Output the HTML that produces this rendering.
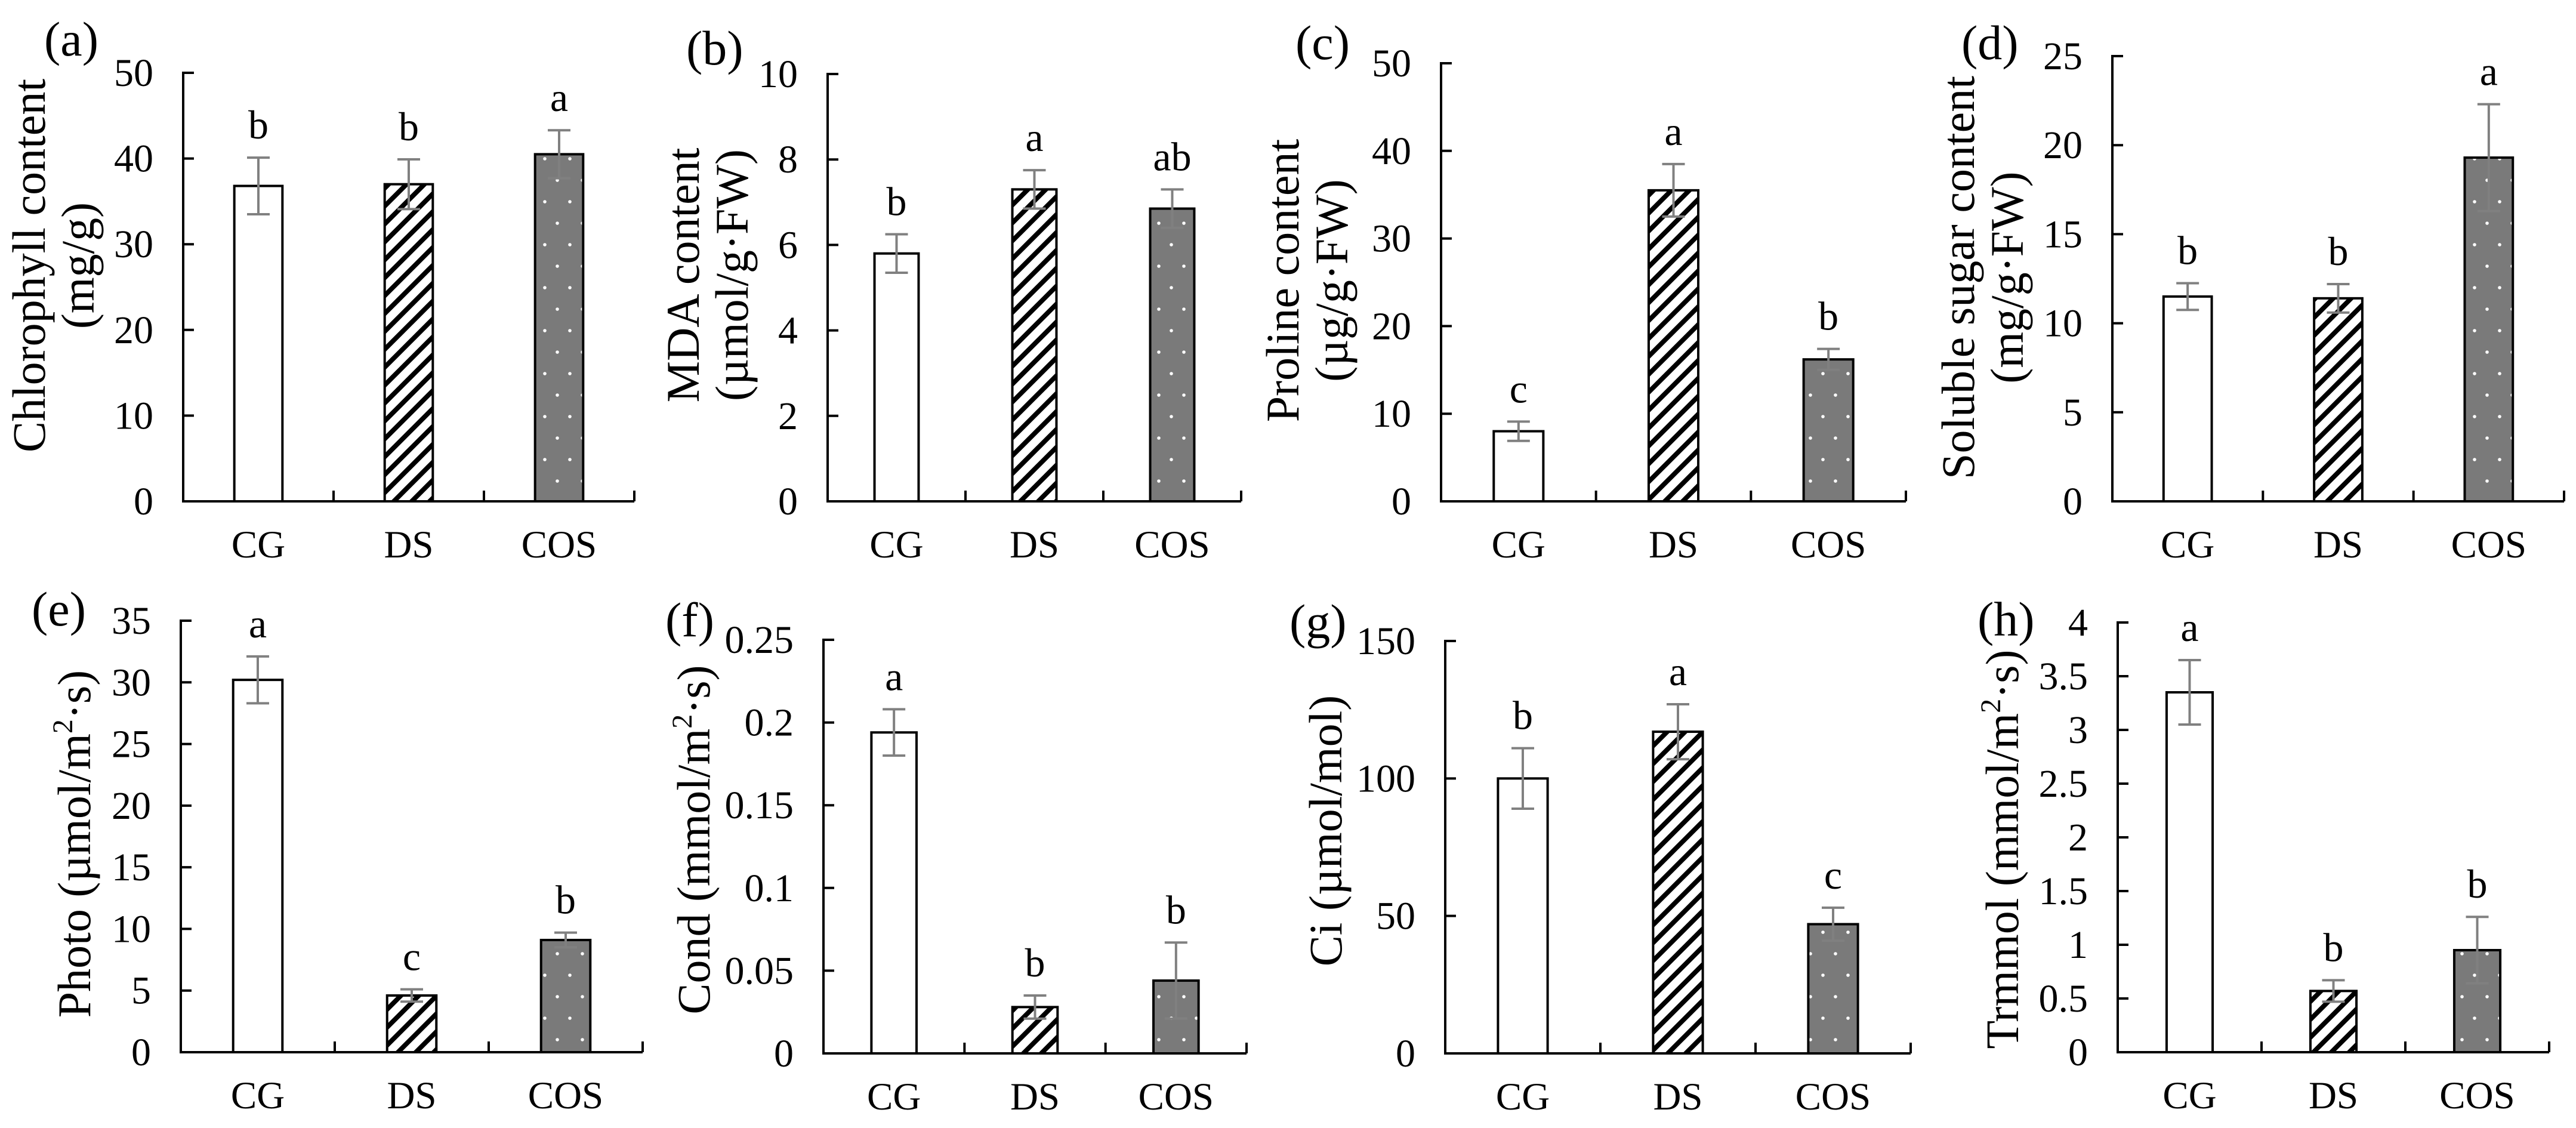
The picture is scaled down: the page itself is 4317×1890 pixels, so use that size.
<!DOCTYPE html>
<html><head><meta charset="utf-8"><style>
html,body{margin:0;padding:0;background:#fff;}
svg{display:block;}
text{font-family:"Liberation Serif",serif;fill:#000;}
</style></head>
<body>
<svg id="fig" xmlns="http://www.w3.org/2000/svg" width="4317" height="1890" viewBox="0 0 4317 1890">
<defs>
<pattern id="hatch" patternUnits="userSpaceOnUse" width="30" height="30">
<rect width="30" height="30" fill="#fff"/>
<path d="M-8,38 L38,-8 M-38,38 L8,-8 M22,38 L68,-8" stroke="#000" stroke-width="8"/>
</pattern>
<pattern id="dots" patternUnits="userSpaceOnUse" width="42" height="72">
<rect width="42" height="72" fill="#7a7a7a"/>
<circle cx="10" cy="14" r="2.8" fill="#fff"/>
<circle cx="31" cy="50" r="2.8" fill="#fff"/>
</pattern>
</defs>
</svg>
<script>
const categories = ["CG","DS","COS"];
const panelIds = ["a","b","c","d","e","f","g","h"];
const valsA = [36.8, 37.0, 40.5], errA = [3.3, 2.9, 2.8], letA = ["b","b","a"];
const valsB = [5.8, 7.3, 6.85], errB = [0.45, 0.45, 0.45], letB = ["b","a","ab"];
const valsC = [8.0, 35.5, 16.2], errC = [1.1, 3.0, 1.2], letC = ["c","a","b"];
const valsD = [11.5, 11.4, 19.3], errD = [0.75, 0.8, 3.0], letD = ["b","b","a"];
const valsE = [30.2, 4.6, 9.1], errE = [1.9, 0.5, 0.6], letE = ["a","c","b"];
const valsF = [0.194, 0.028, 0.044], errF = [0.014, 0.007, 0.023], letF = ["a","b","b"];
const valsG = [100, 117, 47], errG = [11, 10, 6], letG = ["b","a","c"];
const valsH = [3.35, 0.57, 0.95], errH = [0.3, 0.1, 0.31], letH = ["a","b","b"];
const ticksA = ["0","10","20","30","40","50"];
const ticksB = ["0","2","4","6","8","10"];
const ticksC = ["0","10","20","30","40","50"];
const ticksD = ["0","5","10","15","20","25"];
const ticksE = ["0","5","10","15","20","25","30","35"];
const ticksF = ["0","0.05","0.1","0.15","0.2","0.25"];
const ticksG = ["0","50","100","150"];
const ticksH = ["0","0.5","1","1.5","2","2.5","3","3.5","4"];

const data = {a:[valsA,errA,letA,ticksA],b:[valsB,errB,letB,ticksB],c:[valsC,errC,letC,ticksC],d:[valsD,errD,letD,ticksD],
 e:[valsE,errE,letE,ticksE],f:[valsF,errF,letF,ticksF],g:[valsG,errG,letG,ticksG],h:[valsH,errH,letH,ticksH]};

// layout (pixels)
const layout = {
 a:{ax:307,top:122,zero:840,end:1063,lx:74,ly:93,tc:445,t:[["Chlorophyll content",75],["(mg/g)",157]]},
 b:{ax:1387,top:124,zero:840,end:2080,lx:1150,ly:108,tc:461,t:[["MDA content",1171],["(µmol/g·FW)",1253]]},
 c:{ax:2415,top:106,zero:840,end:3194,lx:2171,ly:99,tc:470,t:[["Proline content",2176],["(µg/g·FW)",2258]]},
 d:{ax:3540,top:94,zero:840,end:4297,lx:3287,ly:99,tc:465,t:[["Soluble sugar content",3308],["(mg/g·FW)",3390]]},
 e:{ax:303,top:1040,zero:1763,end:1077,lx:53,ly:1048,tc:1414,t:[["Photo (µmol/m|2|·s)",151]]},
 f:{ax:1380,top:1072,zero:1765,end:2089,lx:1115,ly:1066,tc:1407,t:[["Cond (mmol/m|2|·s)",1189]]},
 g:{ax:2422,top:1074,zero:1765,end:3202,lx:2161,ly:1069,tc:1392,t:[["Ci (µmol/mol)",2248]]},
 h:{ax:3549,top:1043,zero:1763,end:4272,lx:3314,ly:1065,tc:1423,t:[["Trmmol (mmol/m|2|·s)",3382]]}
};
const fills = ["#fff","url(#hatch)","url(#dots)"];
const NS = "http://www.w3.org/2000/svg";
const svg = document.getElementById("fig");
function mk(tag, attrs, parent){const e=document.createElementNS(NS,tag);for(const k in attrs)e.setAttribute(k,attrs[k]);(parent||svg).appendChild(e);return e;}

panelIds.forEach(function(id){
 const L = layout[id];
 const [vals, errs, lets, ticks] = data[id];
 const g = mk("g",{});
 
 
 const tmin = parseFloat(ticks[0]), tmax = parseFloat(ticks[ticks.length-1]);
 const yS = v => L.zero - (v - tmin) / (tmax - tmin) * (L.zero - L.top);
 const cw = (L.end - L.ax) / categories.length;
 const xS = i => L.ax + cw * (i + 0.5);
 const bw = cw * 0.32;
 vals.forEach(function(v,i){
  const r = mk("rect",{x:xS(i)-bw/2,y:yS(v),width:bw,height:L.zero-yS(v),fill:fills[i],stroke:"#000","stroke-width":4},g);
  
  
 });
 vals.forEach(function(v,i){
  const x=xS(i), y1=yS(v+errs[i]), y2=yS(Math.max(tmin,v-errs[i]));
  const eg = mk("g",{stroke:"#808080","stroke-width":4},g);
  
  
  mk("line",{x1:x,x2:x,y1:y1,y2:y2},eg);
  mk("line",{x1:x-19,x2:x+19,y1:y1,y2:y1},eg);
  mk("line",{x1:x-19,x2:x+19,y1:y2,y2:y2},eg);
  const t = mk("text",{x:x,y:y1-32,"font-size":68,"text-anchor":"middle"},g);
  t.textContent = lets[i];
  
  
 });
 const axg = mk("g",{stroke:"#000","stroke-width":4,fill:"none"},g);
 
 
 mk("line",{x1:L.ax,x2:L.ax,y1:L.top-2,y2:L.zero+2},axg);
 mk("line",{x1:L.ax-2,x2:L.end,y1:L.zero,y2:L.zero},axg);
 ticks.forEach(function(tk){
  const y = yS(parseFloat(tk));
  mk("line",{x1:L.ax,x2:L.ax+18,y1:y,y2:y},axg);
  const t = mk("text",{x:L.ax-50,y:y+22,"font-size":66,"text-anchor":"end"},g);
  t.textContent = tk;
  
  
 });
 for(let i=1;i<=categories.length;i++){ const x=L.ax+cw*i; mk("line",{x1:x,x2:x,y1:L.zero,y2:L.zero-18},axg); }
 categories.forEach(function(c,i){
  const t = mk("text",{x:xS(i),y:L.zero+94,"font-size":65,"text-anchor":"middle"},g);
  t.textContent = c;
  
  
 });
 const pl = mk("text",{x:L.lx,y:L.ly,"font-size":82},g);
 pl.textContent = "(" + id + ")";
 
 
 L.t.forEach(function(line){
  const parts = line[0].split("|");
  const t = mk("text",{x:0,y:0,"font-size":78,"text-anchor":"middle",transform:"translate("+line[1]+","+L.tc+") rotate(-90)"},g);
  
  
  parts.forEach(function(p,k){
   const s = mk("tspan",{},t);
   if(k===1){ s.setAttribute("font-size","48"); s.setAttribute("dy","-30"); }
   if(k===2){ s.setAttribute("dy","30"); }
   s.textContent = p;
  });
 });
});
</script>
</body></html>
